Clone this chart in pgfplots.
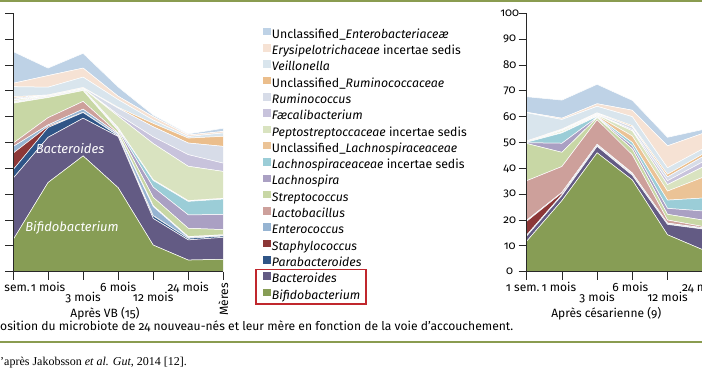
\documentclass[border=0pt]{standalone}
\usepackage{fontspec}
\setmainfont{Fira Sans}[Numbers=OldStyle]
\newfontfamily\seriffont{Liberation Serif}
\usepackage{pgfplots}
\usepackage{pgfplotstable}
\pgfplotsset{compat=1.18}

\definecolor{cbif}{RGB}{135,157,85}
\definecolor{cbac}{RGB}{99,91,132}
\definecolor{cpar}{RGB}{47,85,135}
\definecolor{csta}{RGB}{140,55,55}
\definecolor{cent}{RGB}{150,180,210}
\definecolor{clac}{RGB}{205,160,155}
\definecolor{cstr}{RGB}{200,215,165}
\definecolor{clna}{RGB}{170,160,195}
\definecolor{clis}{RGB}{155,205,215}
\definecolor{cula}{RGB}{235,195,150}
\definecolor{cpep}{RGB}{217,227,192}
\definecolor{cfae}{RGB}{200,195,220}
\definecolor{crum}{RGB}{215,220,232}
\definecolor{curu}{RGB}{235,190,140}
\definecolor{cvei}{RGB}{217,229,237}
\definecolor{cery}{RGB}{246,226,212}
\definecolor{cenb}{RGB}{190,210,230}
\definecolor{cline}{RGB}{138,156,80}
\definecolor{cred}{RGB}{192,39,45}
\definecolor{caxis}{RGB}{40,40,40}

\pgfplotstableread{
x bif bac par sta ent lac str lna lis ula pep fae rum uru vei ery enb
0 12.3 23.8 3.3 6.4 2.6 1.3 15.5 0.3 0.2 0.2 0.5 0.3 0.5 0.5 3.9 1.3 12.3
1 34.5 17.5 3.8 0.5 0.5 2.8 7.8 0.2 0.1 0.1 0.2 0.1 0.2 0.1 3.0 4.5 2.9
2 44.8 14.6 2.2 0.1 1.2 3.0 4.2 0.2 0.2 0.1 0.3 0.1 0.2 0.1 4.0 3.5 5.7
3 32.5 19.8 0.3 0.1 0.6 0.3 1.0 0.6 0.3 0.2 4.5 0.6 2.5 0.3 3.0 1.3 3.6
4 10.3 10.3 1.0 0.1 3.5 0.4 3.2 3.9 2.6 0.3 14.0 2.6 3.9 1.3 1.3 1.3 0.6
5 4.5 7.8 0.6 0.0 0.4 0.3 3.2 5.2 5.2 0.3 13.3 4.5 4.5 1.9 0.6 0.6 0.4
6 4.8 8.5 0.5 0.0 0.2 0.3 2.0 5.8 6.0 0.3 10.4 3.2 6.5 3.9 1.3 0.6 1.2
}\tleft

\pgfplotstableread{
x bif bac par sta ent lac str lna lis ula pep fae rum uru vei ery enb
0 11.8 2.0 0.4 5.3 0.4 15.3 14.4 0.3 0.2 0.1 0.1 0.1 0.1 0.1 10.9 0.2 6.0
1 27.5 2.0 0.3 0.7 0.2 10.0 5.5 3.5 4.0 0.3 0.5 0.2 0.3 0.2 3.7 0.5 7.0
2 46.0 2.5 0.3 0.2 0.3 9.5 0.8 0.2 0.3 0.3 0.3 0.2 0.3 0.3 2.5 1.0 7.5
3 35.5 1.8 0.3 0.2 0.4 7.0 2.3 1.2 1.3 2.5 2.0 0.5 1.0 0.5 3.5 2.5 3.8
4 14.3 4.0 0.2 0.0 0.3 1.2 2.2 2.3 3.2 3.5 2.5 1.5 1.5 1.0 2.5 8.5 3.3
5 8.5 8.0 0.3 0.0 0.2 0.5 2.5 3.5 5.0 8.0 4.0 2.0 2.0 1.0 2.0 6.0 1.5
}\tright

\newcommand{\stackall}[1]{%
\addplot[fill=cbif] table[x=x,y=bif]{#1}\closedcycle;
\addplot[fill=cbac] table[x=x,y=bac]{#1}\closedcycle;
\addplot[fill=cpar] table[x=x,y=par]{#1}\closedcycle;
\addplot[fill=csta] table[x=x,y=sta]{#1}\closedcycle;
\addplot[fill=cent] table[x=x,y=ent]{#1}\closedcycle;
\addplot[fill=clac] table[x=x,y=lac]{#1}\closedcycle;
\addplot[fill=cstr] table[x=x,y=str]{#1}\closedcycle;
\addplot[fill=clna] table[x=x,y=lna]{#1}\closedcycle;
\addplot[fill=clis] table[x=x,y=lis]{#1}\closedcycle;
\addplot[fill=cula] table[x=x,y=ula]{#1}\closedcycle;
\addplot[fill=cpep] table[x=x,y=pep]{#1}\closedcycle;
\addplot[fill=cfae] table[x=x,y=fae]{#1}\closedcycle;
\addplot[fill=crum] table[x=x,y=rum]{#1}\closedcycle;
\addplot[fill=curu] table[x=x,y=uru]{#1}\closedcycle;
\addplot[fill=cvei] table[x=x,y=vei]{#1}\closedcycle;
\addplot[fill=cery] table[x=x,y=ery]{#1}\closedcycle;
\addplot[fill=cenb] table[x=x,y=enb]{#1}\closedcycle;
}

\pgfplotsset{panel/.style={
  scale only axis, height=258.4pt, ymin=0, ymax=100, xmin=0,
  anchor=south west,
  stack plots=y, axis on top, axis lines*=left, tick align=outside,
  major tick length=8pt, ytick={0,10,...,100}, xtick={0,...,6},
  xticklabels={},
  axis line style={line width=0.8pt, color=caxis},
  tick style={line width=0.8pt, color=caxis},
  every axis plot/.append style={draw=white, line width=0.5pt, mark=none},
  clip=false,
  /pgf/number format/assume math mode=true,
  yticklabel style={font=\fontsize{11.5}{13}\selectfont, text=black, anchor=center, inner sep=0pt, xshift=-9pt},
}}

\newcommand{\fs}{\fontsize{12}{14}\selectfont}

\begin{document}
\begin{tikzpicture}[x=1pt,y=1pt]
\useasboundingbox (0,0) rectangle (702,370);
\clip (0,0) rectangle (702,370);
\fill[white] (0,0) rectangle (702,370);
\draw[cline, line width=2pt] (0,369) -- (702,369);
\draw[cline, line width=2pt] (0,28) -- (702,28);

\begin{axis}[panel, width=210.3pt, xmax=6, at={(13pt,98.3pt)},
  yticklabels={},
  reverse legend,
  legend cell align=left,
  legend image code/.code={\fill[#1,draw=none] (0pt,-0.5pt) rectangle (7.5pt,7pt);},
  legend style={at={(1.19,0.945)}, anchor=north west, draw=none, fill=none,
    inner sep=0pt, row sep=2pt, font=\fontsize{12.3}{14}\selectfont,
    nodes={inner sep=1pt, text height=9.5pt, text depth=2.8pt}},
  legend entries={{\textit{Bifidobacterium}},{\textit{Bacteroides}},{\textit{Parabacteroides}},
    {\textit{Staphylococcus}},{\textit{Enterococcus}},{\textit{Lactobacillus}},
    {\textit{Streptococcus}},{\textit{Lachnospira}},{\textit{Lachnospiraceaceae} incertae sedis},
    {Unclassified\_\textit{Lachnospiraceaceae}},{\textit{Peptostreptoccaceae} incertae sedis},
    {\textit{Fæcalibacterium}},{\textit{Ruminococcus}},{Unclassified\_\textit{Ruminococcaceae}},
    {\textit{Veillonella}},{\textit{Erysipelotrichaceae} incertae sedis},
    {Unclassified\_\textit{Enterobacteriaceæ}}},
]
\stackall{\tleft}
\end{axis}

\begin{axis}[panel, width=176pt, xmax=5, at={(526.7pt,98.3pt)}]
\stackall{\tright}
\end{axis}

% in-chart labels
\node[text=white, font=\fontsize{13}{15}\selectfont\itshape] at (70,221.7) {Bacteroides};
\node[text=white, font=\fontsize{13}{15}\selectfont\itshape] at (72,141.7) {Bifidobacterium};

% x tick labels, left panel
\foreach \i/\t/\r in {0/1 sem./0,1/1 mois/0,2/3 mois/1,3/6 mois/0,4/12 mois/1,5/24 mois/0}{
  \pgfmathsetmacro{\xx}{13+35.05*\i}
  \pgfmathsetmacro{\yy}{79-10.5*\r}
  \node[font=\fs, anchor=base, inner sep=0pt] at (\xx,\yy) {\t};
}
\node[font=\fs, anchor=east, rotate=90, inner sep=0pt] at (223.3,87) {Mères};
\node[font=\fs, anchor=base, inner sep=0pt] at (105,53) {Après VB (15)};

% x tick labels, right panel
\foreach \i/\t/\r/\d in {0/1 sem./0/-4,1/1 mois/0/-3,2/3 mois/1/0,3/6 mois/0/-2,4/12 mois/1/0,5/24 mois/0/0}{
  \pgfmathsetmacro{\xx}{526.7+35.2*\i+\d}
  \pgfmathsetmacro{\yy}{79-10.5*\r}
  \node[font=\fs, anchor=base, inner sep=0pt] at (\xx,\yy) {\t};
}
\node[font=\fs, anchor=base, inner sep=0pt] at (606.3,53) {Après césarienne (9)};

% red box
\draw[cred, line width=1.2pt] (256,100.7) rectangle (366,66);

% caption
\node[font=\fontsize{12.1}{14}\selectfont, anchor=base west, inner sep=0pt] at (0,40) {\llap{Comp}osition du microbiote de 24 nouveau-nés et leur mère en fonction de la voie d’accouchement.};
\node[font=\seriffont\fontsize{12}{14}\selectfont, anchor=base west, inner sep=0pt] at (0,4.5) {\llap{d}’après Jakobsson \textit{et al.} \textit{Gut}, 2014 [12].};
\end{tikzpicture}
\end{document}
